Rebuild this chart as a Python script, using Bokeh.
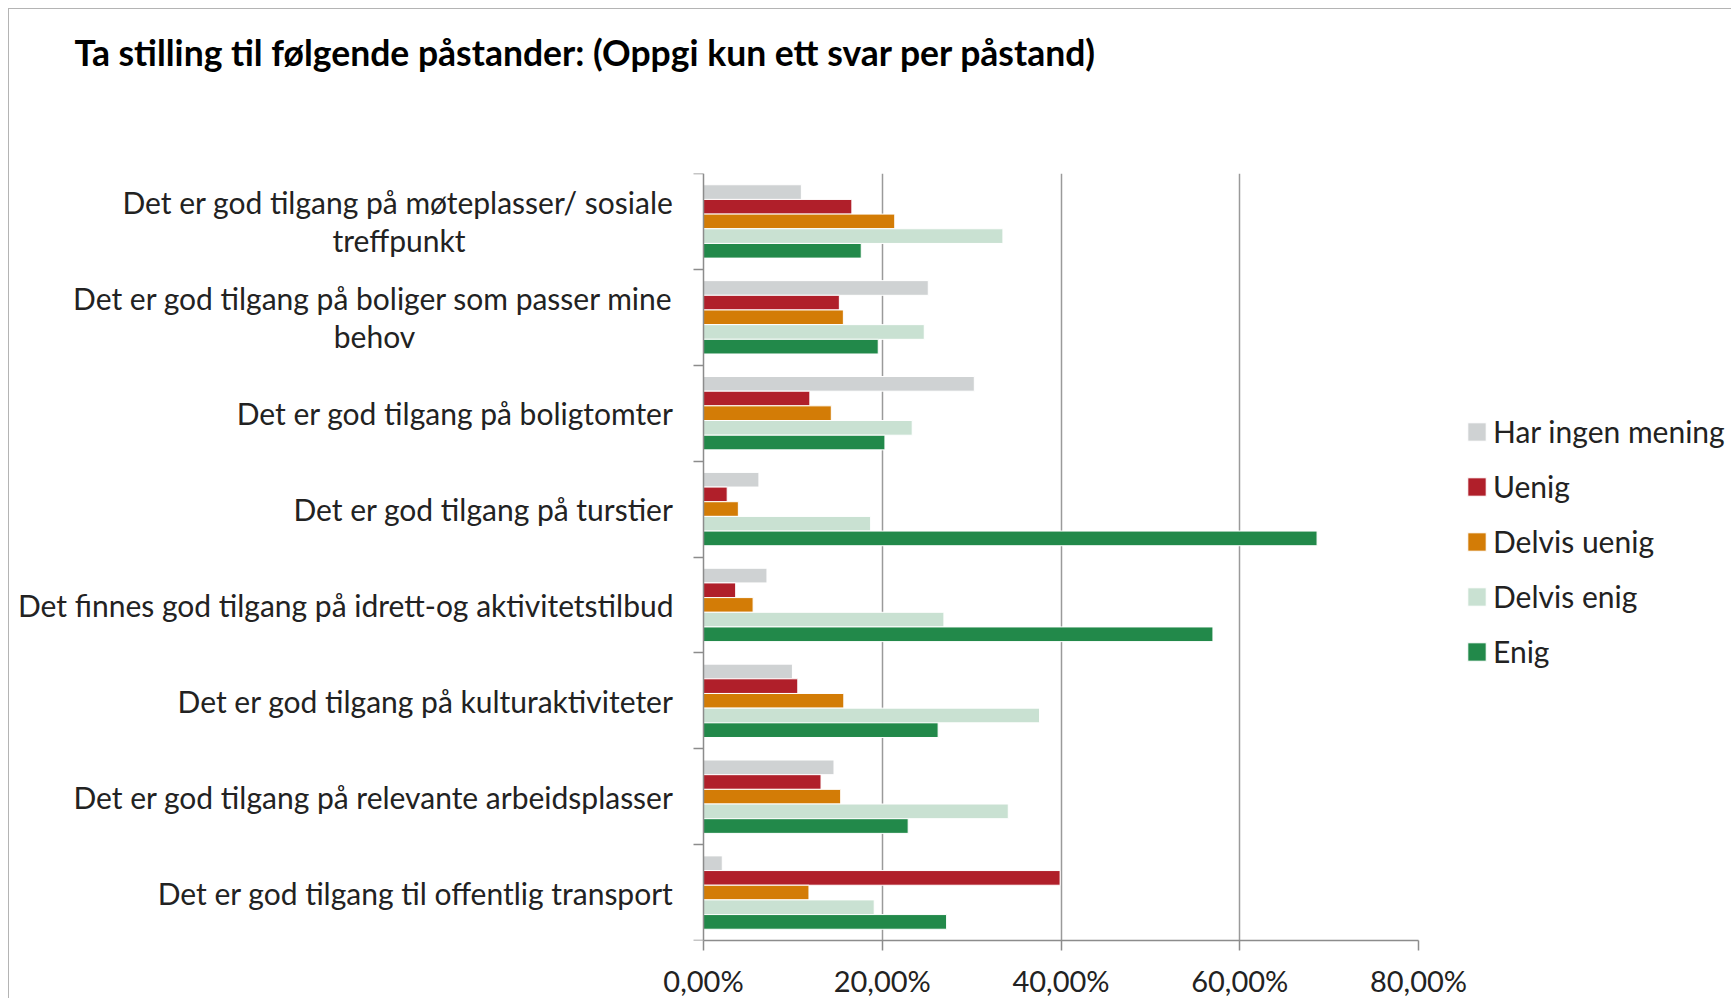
from bokeh.plotting import figure
from bokeh.models import (Range1d, FixedTicker, Legend, LegendItem, Title,
                          LinearAxis)
from bokeh.core.properties import value
from bokeh.embed import file_html
from bokeh.resources import INLINE

title_text = "Ta stilling til følgende påstander: (Oppgi kun ett svar per påstand)"

categories = [
    "Det er god tilgang på møteplasser/ sosiale\ntreffpunkt",
    "Det er god tilgang på boliger som passer mine\nbehov",
    "Det er god tilgang på boligtomter",
    "Det er god tilgang på turstier",
    "Det finnes god tilgang på idrett-og aktivitetstilbud",
    "Det er god tilgang på kulturaktiviteter",
    "Det er god tilgang på relevante arbeidsplasser",
    "Det er god tilgang til offentlig transport",
]

series_names = ["Har ingen mening", "Uenig", "Delvis uenig", "Delvis enig", "Enig"]
har_ingen_mening = [10.95, 25.15, 30.3, 6.2, 7.1, 9.95, 14.6, 2.1]
uenig = [16.6, 15.2, 11.9, 2.65, 3.6, 10.55, 13.15, 39.9]
delvis_uenig = [21.4, 15.65, 14.3, 3.9, 5.55, 15.7, 15.35, 11.8]
delvis_enig = [33.5, 24.7, 23.35, 18.7, 26.9, 37.6, 34.1, 19.1]
enig = [17.65, 19.55, 20.3, 68.65, 57.0, 26.25, 22.9, 27.2]
series_colors = ["#CFD2D3", "#B01F2A", "#D37C06", "#C9E1D2", "#22894A"]

x_ticks = [0, 20, 40, 60, 80]
x_tick_labels = ["0,00%", "20,00%", "40,00%", "60,00%", "80,00%"]

FONT = "Lato"
AXIS_COLOR = "#8C8C8C"
GRID_COLOR = "#9A9A9A"
TEXT_COLOR = "#222222"

# layout constants (pixels)
DATA_PX = 715           # width of the 0..80 % part of the frame
LABEL_PX = 694          # width of the category-label part of the frame
FRAME_H = 767
LABEL_GAP = 30          # gap between category labels and y axis
LINE_HALF = 19          # half line spacing of two-line labels
FIRST_LINE_WIDTH = {0: 549, 1: 598}   # approx rendered width of first lines
TITLE_GAP = 95

n_cat = len(categories)
n_ser = len(series_names)
bar_h = 0.153
x_max = x_ticks[-1]
px_x = DATA_PX / x_max
px_y = FRAME_H / n_cat

p = figure(
    frame_width=LABEL_PX + DATA_PX, frame_height=FRAME_H,
    min_border_left=0, min_border_right=312,
    min_border_top=164, min_border_bottom=57,
    x_range=Range1d(-LABEL_PX / px_x, x_max), y_range=Range1d(n_cat, 0),
    toolbar_location=None, output_backend="svg",
    background_fill_color="white", border_fill_color="white",
)
p.outline_line_color = None
p.styles = {"margin-left": "8px", "margin-top": "8px",
            "border-top": "1px solid #B4B4B4", "border-left": "1px solid #B4B4B4"}

all_series = [har_ingen_mening, uenig, delvis_uenig, delvis_enig, enig]
items = []
for j, (name, vals, col) in enumerate(zip(series_names, all_series, series_colors)):
    ys = [i + 0.5 + (j - (n_ser - 1) / 2) * bar_h for i in range(n_cat)]
    r = p.hbar(y=ys, right=vals, left=0, height=bar_h, fill_color=col,
               line_color="white", line_width=1)
    items.append(LegendItem(label=name, renderers=[r]))

# x axis (bottom)
xa = p.below[0]
xa.bounds = (0, x_max)
xa.ticker = FixedTicker(ticks=x_ticks, minor_ticks=[])
xa.major_label_overrides = {t: l for t, l in zip(x_ticks, x_tick_labels)}
xa.major_label_text_font = FONT
xa.major_label_text_font_size = "29px"
xa.major_label_text_color = TEXT_COLOR
xa.axis_line_color = AXIS_COLOR
xa.axis_line_width = 1.5
xa.major_tick_line_color = AXIS_COLOR
xa.major_tick_line_width = 1.5
xa.major_tick_out = 10
xa.major_tick_in = 0
xa.major_label_standoff = 12

# y axis at x = 0: only boundary ticks
ya = p.left[0]
ya.fixed_location = 0
ya.ticker = FixedTicker(ticks=[], minor_ticks=list(range(n_cat + 1)))
ya.major_tick_out = 0
ya.major_tick_in = 0
ya.minor_tick_out = 10
ya.minor_tick_in = 0
ya.minor_tick_line_color = AXIS_COLOR
ya.minor_tick_line_width = 1.5
ya.axis_line_color = AXIS_COLOR
ya.axis_line_width = 1.5

# Title, with an invisible spacer axis that keeps it away from the frame
p.title = Title(text=title_text, align="left", offset=65, standoff=10,
                text_font=FONT, text_font_size="35.5px", text_font_style="bold",
                text_color="black")
spacer = LinearAxis(ticker=FixedTicker(ticks=[x_max], minor_ticks=[]),
                    axis_line_color=None,
                    major_tick_out=TITLE_GAP, major_tick_in=0,
                    major_tick_line_color=None, minor_tick_line_color=None,
                    major_label_overrides={x_max: ""},
                    major_label_text_font_size="0px",
                    major_label_standoff=0)
p.add_layout(spacer, "above")

# category labels (in the label part of the frame)
rx, ry, rt = [], [], []
cx, cy, ct = [], [], []
for i, lab in enumerate(categories):
    lines = lab.split("\n")
    yc = i + 0.5
    rx.append(-LABEL_GAP / px_x)
    rt.append(lines[0])
    if len(lines) == 1:
        ry.append(yc)
    else:
        ry.append(yc - LINE_HALF / px_y)
        cx.append(-(LABEL_GAP + FIRST_LINE_WIDTH[i] / 2) / px_x)
        cy.append(yc + LINE_HALF / px_y)
        ct.append(lines[1])

text_style = dict(text_baseline=value("middle"), text_font=value(FONT),
                  text_font_size=value("30px"), text_color=TEXT_COLOR)
p.text(x=rx, y=ry, text=rt, text_align=value("right"), **text_style)
p.text(x=cx, y=cy, text=ct, text_align=value("center"), **text_style)

# grid
p.ygrid.visible = False
p.xgrid.ticker = FixedTicker(ticks=x_ticks[1:])
p.xgrid.grid_line_color = GRID_COLOR
p.xgrid.grid_line_width = 1.5

legend = Legend(items=items, location=(47, 271), orientation="vertical",
                label_text_font=FONT, label_text_font_size="30px",
                label_text_color=TEXT_COLOR,
                glyph_width=23, glyph_height=23, label_standoff=5,
                label_height=30, spacing=19, padding=0, margin=0,
                border_line_color=None, background_fill_alpha=0)
p.add_layout(legend, "right")

open("out.html", "w").write(file_html(p, INLINE))
